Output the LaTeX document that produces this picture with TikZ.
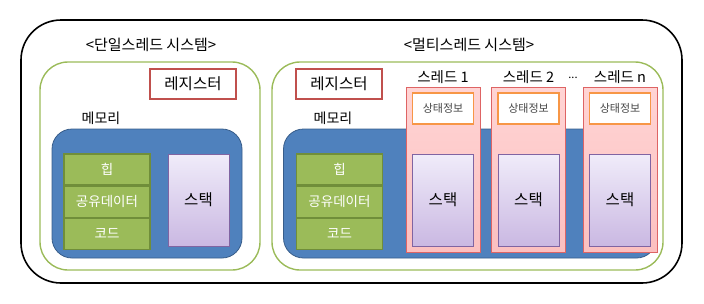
\documentclass[tikz,border=0pt]{standalone}
\usepackage{fontspec}
\setmainfont{Noto Sans CJK KR}
\usepackage{tikz}
\usetikzlibrary{positioning, calc}
\usepackage{xcolor}
\definecolor{frameGreen}{RGB}{155,187,89}
\definecolor{leafGreen}{RGB}{155,187,89}
\definecolor{leafEdge}{RGB}{112,142,58}
\definecolor{memBlue}{RGB}{79,129,189}
\definecolor{memEdge}{RGB}{56,93,138}
\definecolor{regRed}{RGB}{192,80,77}
\definecolor{stackEdge}{RGB}{128,100,162}
\definecolor{stackTop}{RGB}{240,236,250}
\definecolor{stackBot}{RGB}{202,184,226}
\definecolor{threadEdge}{RGB}{222,100,100}
\definecolor{threadTop}{RGB}{255,212,212}
\definecolor{threadBot}{RGB}{252,192,192}
\definecolor{infoOrange}{RGB}{247,150,70}
\definecolor{infoText}{RGB}{70,70,70}

\begin{document}
\begin{tikzpicture}[
  x=1pt, y=-1pt,
  sysbox/.style={
    rectangle, rounded corners=40pt, draw=black, line width=1.6pt,
    minimum width=661pt, minimum height=263pt
  },
  framebox/.style={
    rectangle, rounded corners=28pt, draw=frameGreen, line width=1.4pt,
    minimum height=208pt
  },
  regbox/.style={
    rectangle, draw=regRed, line width=1.4pt, fill=white,
    minimum width=86pt, minimum height=30pt,
    font=\fontsize{15.5}{18}\selectfont
  },
  membox/.style={
    rectangle, rounded corners=20pt, draw=memEdge, line width=0.8pt,
    fill=memBlue, minimum height=129pt
  },
  leaf/.style={
    rectangle, draw=leafEdge, line width=1.2pt, fill=leafGreen,
    minimum width=86pt, minimum height=31pt, text=white,
    font=\fontsize{13.5}{15}\selectfont
  },
  stackbox/.style={
    rectangle, draw=stackEdge, line width=0.8pt,
    top color=stackTop, bottom color=stackBot,
    minimum width=61pt, minimum height=92pt,
    font=\fontsize{15.5}{18}\selectfont
  },
  threadbox/.style={
    rectangle, draw=threadEdge, line width=0.8pt,
    top color=threadTop, bottom color=threadBot,
    minimum width=74pt, minimum height=165pt
  },
  infobox/.style={
    rectangle, draw=infoOrange, line width=1.4pt, fill=white,
    minimum width=61pt, minimum height=31pt, text=infoText,
    font=\fontsize{11}{13}\selectfont
  },
  label/.style={font=\fontsize{14}{16}\selectfont},
  title/.style={font=\fontsize{15}{18}\selectfont}
]
  \useasboundingbox (0,0) rectangle (704,303);

  % outer system frame
  \node[sysbox] (sys) at (351.5,151.5) {};

  % single-thread system
  \node[title] (t1) at (151,45) {<단일스레드 시스템>};
  \node[framebox, minimum width=220pt] (single) at (150,166) {};
  \node[regbox] (regA) at (193,84) {레지스터};
  \node[label] (memA) at (101,118) {메모리};
  \node[membox, minimum width=190pt] (memBoxA) at (147,193.5) {};
  \node[leaf] (heapA) at (107,169.5) {힙};
  \node[leaf, below=0pt of heapA] (dataA) {공유데이터};
  \node[leaf, below=0pt of dataA] (codeA) {코드};
  \node[stackbox] (stackA) at (198.5,200) {스택};

  % multi-thread system
  \node[title] (t2) at (469,45) {<멀티스레드 시스템>};
  \node[framebox, minimum width=391pt] (multi) at (467.5,166) {};
  \node[regbox] (regB) at (339,84) {레지스터};
  \node[label] (memB) at (333,118) {메모리};
  \node[membox, minimum width=373pt] (memBoxB) at (470,193.5) {};
  \node[leaf] (heapB) at (339.5,169.5) {힙};
  \node[leaf, below=0pt of heapB] (dataB) {공유데이터};
  \node[leaf, below=0pt of dataB] (codeB) {코드};

  \foreach \k/\x/\name in {1/443/1, 2/528.5/2, 3/620/n} {
    \node[threadbox] (th\k) at (\x,169.5) {};
    \node[label, font=\fontsize{14.5}{16}\selectfont] (thl\k) at (\x,77)
      {스레드 \name};
    \node[infobox] (info\k) at (\x,108.5) {상태정보};
    \node[stackbox] (stack\k) at (\x,200) {스택};
  }
  \node[font=\fontsize{11}{13}\selectfont] (dots) at (573,78) {...};
\end{tikzpicture}
\end{document}
